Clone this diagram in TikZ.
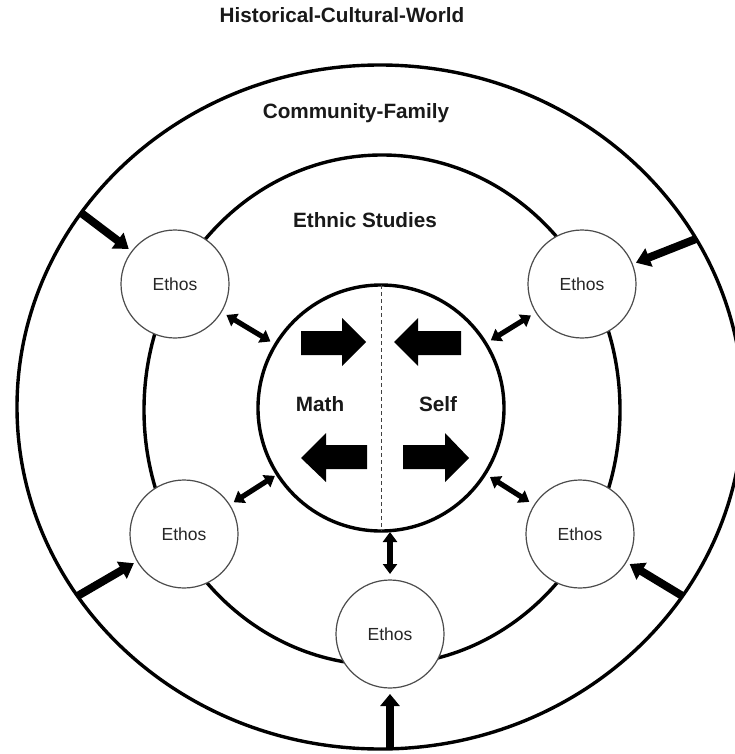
\documentclass[tikz,border=0pt]{standalone}
\usepackage{fontspec}
\setmainfont{Liberation Sans}
\usetikzlibrary{arrows.meta,shapes.geometric}
\begin{document}
\begin{tikzpicture}[x=1pt,y=-1pt,
  ring/.style={draw=black, line width=3.4pt, inner sep=0pt, outer sep=0pt},
  ethos/.style={circle, draw=black!70, line width=1.2pt, fill=white, minimum size=108pt, inner sep=0pt, outer sep=0pt, font=\fontsize{17.5}{20}\selectfont, text=black!85},
  lbl/.style={font=\bfseries\fontsize{20.7}{24}\selectfont, anchor=base, text=black!90},
  bigarrow/.style={line width=8pt, -{Triangle[width=19pt,length=14pt]}, shorten >=4pt},
  dblarrow/.style={line width=5.2pt, {Triangle[width=14pt,length=10pt]}-{Triangle[width=14pt,length=10pt]}, shorten >=6pt, shorten <=6pt},
  blockarrow/.style={fill=black}
]
\useasboundingbox (0,0) rectangle (735,754);
\clip (0,0) rectangle (735,754);
\fill[white] (0,0) rectangle (735,754);

% rings
\node[ring, ellipse, minimum width=726pt, minimum height=684pt] (outer) at (380,407) {};
\node[ring, ellipse, minimum width=476pt, minimum height=510pt] (middle) at (382,410) {};
\node[ring, circle, minimum size=246pt] (inner) at (381,408) {};

% labels
\node[lbl] (title) at (342,23) {Historical-Cultural-World};
\node[lbl] (community) at (356,119) {Community-Family};
\node[lbl] (ethnic) at (365,227) {Ethnic Studies};
\node[lbl] (math) at (320,411) {Math};
\node[lbl] (self) at (438,411) {Self};

% dashed divider
\draw[black!75, line width=0.9pt, dash pattern=on 4pt off 3pt] (inner.north) -- (inner.south);

% Ethos circles
\node[ethos] (eTL) at (175,284) {Ethos};
\node[ethos] (eTR) at (582,284) {Ethos};
\node[ethos] (eLL) at (184,534) {Ethos};
\node[ethos] (eLR) at (580,534) {Ethos};
\node[ethos] (eB) at (390,634) {Ethos};

% arrows from the outer ring
\draw[bigarrow] (outer.147.8) -- (eTL);
\draw[bigarrow] (outer.28.2) -- (eTR);
\draw[bigarrow] (outer.212.5) -- (eLL);
\draw[bigarrow] (outer.328.5) -- (eLR);
\draw[bigarrow, -{Triangle[width=19pt,length=12pt]}, shorten >=6pt] (eB.south |- outer.south) -- (eB.south);

% double arrows to the inner circle
\draw[dblarrow] (eTL) -- (inner);
\draw[dblarrow] (eTR) -- (inner);
\draw[dblarrow, shorten >=3pt, shorten <=5pt] (eLL) -- (inner);
\draw[dblarrow] (eLR) -- (inner);
\draw[dblarrow, shorten <=1pt, shorten >=6pt] (inner.south -| eB) -- (eB.north);

% block arrows inside the inner circle
\fill[blockarrow] (301,331) -- (342,331) -- (342,318) -- (366,342) -- (342,366) -- (342,355) -- (301,355) -- cycle;
\fill[blockarrow] (461,331) -- (418,331) -- (418,318) -- (394,342) -- (418,366) -- (418,355) -- (461,355) -- cycle;
\fill[blockarrow] (367,445) -- (326,445) -- (326,433) -- (301,458) -- (326,482) -- (326,469) -- (367,469) -- cycle;
\fill[blockarrow] (403,445) -- (445,445) -- (445,433) -- (469,458) -- (445,482) -- (445,469) -- (403,469) -- cycle;
\end{tikzpicture}
\end{document}
